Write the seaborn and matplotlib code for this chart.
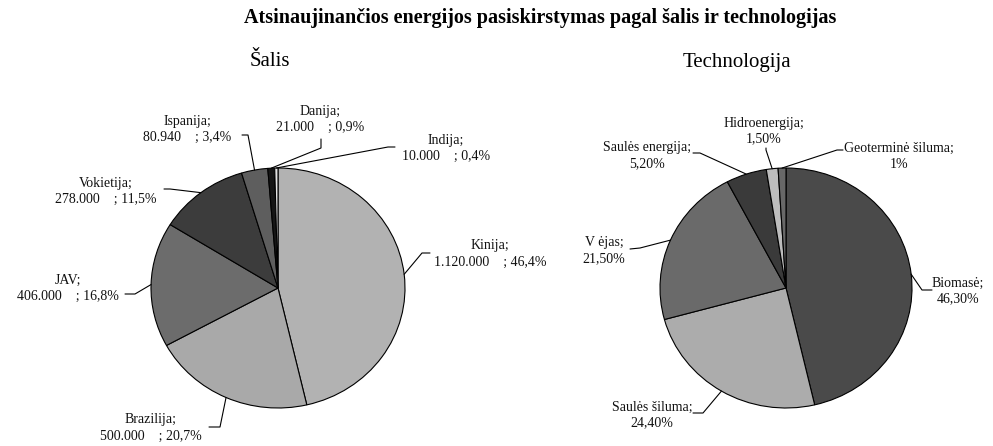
import matplotlib
matplotlib.use("Agg")
import matplotlib.pyplot as plt
from matplotlib.lines import Line2D
import numpy as np
import seaborn as sns

# ---------------- data ----------------
title = "Atsinaujinančios energijos pasiskirstymas pagal šalis ir technologijas"
country_title = "Šalis"
tech_title = "Technologija"

countries = ["Kinija", "Brazilija", "JAV", "Vokietija", "Ispanija", "Danija", "Indija"]
country_values = [1120000, 500000, 406000, 278000, 80940, 21000, 10000]
country_colors = ["#b2b2b2", "#a9a9a9", "#6c6c6c", "#3c3c3c", "#5e5e5e", "#161616", "#e4e4e4"]

techs = ["Biomasė", "Saulės šiluma", "V ėjas", "Saulės energija", "Hidroenergija", "Geoterminė šiluma"]
tech_values = [46.3, 24.4, 21.5, 5.2, 1.5, 1.0]
tech_pct_labels = ["46,30%", "24,40%", "21,50%", "5,20%", "1,50%", "1%"]
tech_colors = ["#4a4a4a", "#acacac", "#6a6a6a", "#3a3a3a", "#bdbdbd", "#686868"]

# ---------------- layout (pixels, origin top-left) ----------------
W, H = 993, 446
# label block centres
country_label_pos = [(490, 254), (151, 428), (68, 288), (106, 191), (187, 129), (320, 119), (446, 148)]
country_leader = [((430, 253), (422, 253)), ((209, 427), (220, 427)), ((125, 294), (135, 294)),
                  ((164, 189), (170, 189)), ((242, 135), (248, 135)), ((321, 139), (321, 148)),
                  ((395, 147), (388, 147))]
tech_label_pos = [(958, 291), (652, 415), (604, 251), (647, 156), (764, 131), (899, 156)]
tech_leader = [((932, 290), (922, 290)), ((693, 413), (703, 413)), ((630, 249), (640, 248)),
               ((693, 153), (700, 153)), ((766, 148), (766, 150)), ((843, 150), (837, 150))]

sns.set_theme(style="white")
plt.rcParams["font.family"] = ["Liberation Serif", "DejaVu Serif"]

fig = plt.figure(figsize=(W / 100, H / 100), dpi=100)
fig.patch.set_facecolor("white")


def fx(x):
    return x / W


def fy(y):
    return 1 - y / H


def make_pie(bbox, values, colors):
    x0, y0, x1, y1 = bbox
    ax = fig.add_axes([fx(x0), fy(y1), (x1 - x0) / W, (y1 - y0) / H])
    wedges, _ = ax.pie(values, colors=colors, startangle=90, counterclock=False,
                       radius=1.0,
                       wedgeprops=dict(edgecolor="black", linewidth=0.8))
    ax.set_aspect("auto")
    ax.set_xlim(-1.0, 1.0)
    ax.set_ylim(-1.0, 1.0)
    ax.axis("off")
    return ax, wedges


def wedge_point(ax, w):
    ang = np.deg2rad((w.theta1 + w.theta2) / 2)
    disp = ax.transData.transform((np.cos(ang), np.sin(ang)))
    return fig.transFigure.inverted().transform(disp)


def leader(ax, w, start, elbow):
    px, py = wedge_point(ax, w)
    xs = [fx(start[0]), fx(elbow[0]), px]
    ys = [fy(start[1]), fy(elbow[1]), py]
    fig.add_artist(Line2D(xs, ys, color="black", linewidth=0.8, transform=fig.transFigure))


FS = 10
LS = 1.3
ax1, w1 = make_pie((151, 168, 405, 408), country_values, country_colors)
total = sum(country_values)
for name, v, w, pos, (s, e) in zip(countries, country_values, w1, country_label_pos, country_leader):
    num = f"{v:,}".replace(",", ".")
    pct = f"{100 * v / total:.1f}".replace(".", ",")
    fig.text(fx(pos[0]), fy(pos[1]), f"{name};\n{num}    ; {pct}%", ha="center", va="center",
             multialignment="center", fontsize=FS, color="#111111", linespacing=LS)
    leader(ax1, w, s, e)

ax2, w2 = make_pie((660, 168, 912, 408), tech_values, tech_colors)
for name, lab, w, pos, (s, e) in zip(techs, tech_pct_labels, w2, tech_label_pos, tech_leader):
    fig.text(fx(pos[0]), fy(pos[1]), f"{name};\n{lab}", ha="center", va="center",
             multialignment="center", fontsize=FS, color="#111111", linespacing=LS)
    leader(ax2, w, s, e)

fig.text(fx(540), fy(18), title, ha="center", va="center", fontsize=14.5, fontweight="bold", color="black")
fig.text(fx(270), fy(62), country_title, ha="center", va="center", fontsize=15, color="black")
fig.text(fx(737), fy(62), tech_title, ha="center", va="center", fontsize=15, color="black")

fig.savefig("out.png", dpi=100, facecolor="white")
